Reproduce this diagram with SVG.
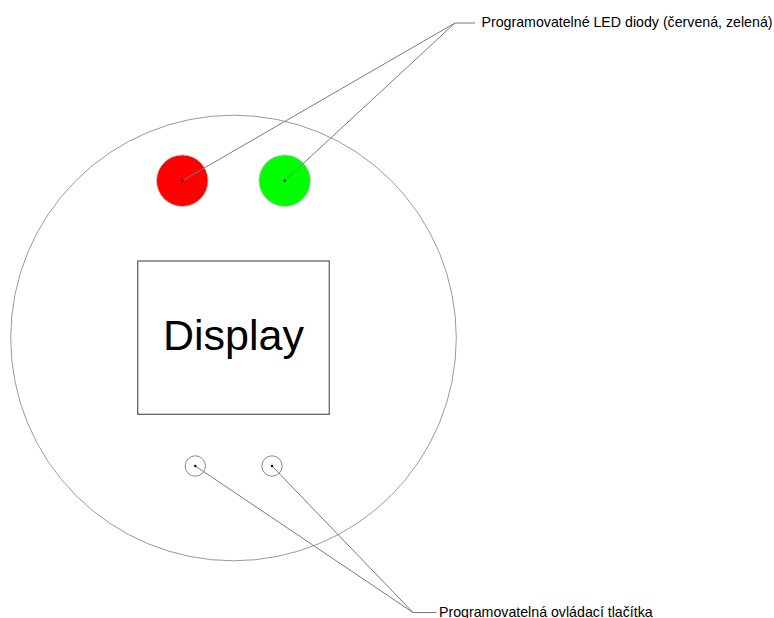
<svg xmlns="http://www.w3.org/2000/svg" width="774" height="618" viewBox="0 0 774 618">
<style>
.body{fill:#fff;stroke:#9a9a9a;stroke-width:1}
.led{stroke:#c8c8c8;stroke-width:1}
.btn{fill:#fff;stroke:#8a8a8a;stroke-width:1}
.dot{fill:#000}
.lead{fill:none;stroke:#7a7a7a;stroke-width:1}
.lbl{font-family:"Liberation Sans",Arial,sans-serif;font-size:14.2px;fill:#000}
</style>
<rect width="774" height="618" fill="#fff"/>
<g id="housing"><circle class="body" cx="233.5" cy="338" r="222.8"/></g>
<g id="led-red"><circle class="led" cx="182.3" cy="180.7" r="25.8" fill="#ff0000"/></g>
<g id="led-green"><circle class="led" cx="284.7" cy="180.7" r="25.8" fill="#00ff00"/></g>
<g id="display">
<rect x="137.7" y="261" width="191.6" height="153.3" fill="#fff" stroke="#666" stroke-width="1.3"/>
<text x="233.5" y="349.5" text-anchor="middle" font-family="'Liberation Sans',Arial,sans-serif" font-size="43" fill="#000">Display</text>
</g>
<g id="button-1"><circle class="btn" cx="195.3" cy="466" r="10.2"/></g>
<g id="button-2"><circle class="btn" cx="272" cy="466" r="10.2"/></g>
<g id="connectors">
<polyline class="lead" points="182.3,180.7 455,23 475,23"/>
<polyline class="lead" points="284.7,180.7 455,23"/>
<polyline class="lead" points="195.3,466 413,612.5 436.5,612.5"/>
<polyline class="lead" points="272,466 413,612.5"/>
</g>
<g id="dots">
<circle class="dot" cx="182.3" cy="180.7" r="1.2"/>
<circle class="dot" cx="284.7" cy="180.7" r="1.2"/>
<circle class="dot" cx="195.3" cy="466" r="1.2"/>
<circle class="dot" cx="272" cy="466" r="1.2"/>
</g>
<g id="label-led"><text class="lbl" x="481.5" y="26.5">Programovatelné LED diody (červená, zelená)</text></g>
<g id="label-buttons"><text class="lbl" x="439" y="616.5">Programovatelná ovládací tlačítka</text></g>
</svg>
